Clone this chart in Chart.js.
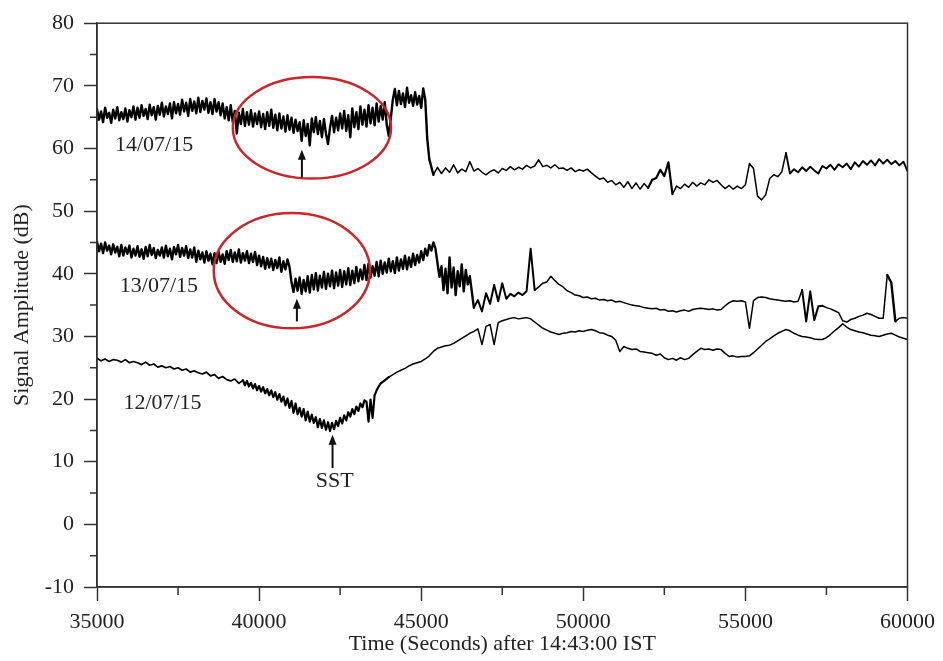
<!DOCTYPE html>
<html><head><meta charset="utf-8">
<script src="https://cdn.jsdelivr.net/npm/chart.js@4.4.1/dist/chart.umd.min.js"></script>
<style>html,body{margin:0;padding:0;background:#fff;}#wrap{width:943px;height:661px;position:relative;}</style>
</head><body><div id="wrap"><canvas id="c"></canvas></div>
<script>
// sampling time grids (s after 14:43:00 IST)
const range = (a, b, step) => { const r = []; for (let t = a; t <= b + 1e-6; t += step) r.push(t); return r; };

// ---- 14/07/15 ----
// dense samples (every 62.5 s) 35000 - 45250
const t14a = range(35000, 45250, 62.5);
const s14a = [
66.3,64.6,65.9,64.2,66.5,64.9,65.7,64.1,66.2,64.8,66.6,64.5,65.8,64.7,66.4,64.3,66.1,65.0,66.7,64.6,
66.5,64.9,66.9,65.2,66.3,64.7,67.0,65.3,66.6,64.6,66.8,65.4,67.3,65.1,66.7,65.5,67.2,64.8,67.4,65.6,
67.1,65.4,67.8,65.9,67.3,65.2,67.9,66.0,67.5,65.6,68.1,65.8,67.6,66.2,68.0,65.7,67.4,65.5,67.9,65.9,
67.4,65.3,67.2,64.8,66.6,64.5,66.9,64.2,66.0,62.4,65.7,63.9,66.3,63.6,65.8,63.8,66.1,63.5,65.6,63.9,
65.9,63.4,65.5,63.1,65.8,63.6,66.2,63.3,65.4,62.9,65.6,63.2,65.1,62.7,65.3,63.0,64.9,62.5,64.6,62.8,
64.2,61.2,64.5,62.0,63.9,60.5,64.8,62.6,65.0,62.3,64.4,61.8,64.7,62.4,60.7,63.3,65.2,62.6,64.9,62.9,
65.6,63.2,66.0,62.8,65.3,61.8,66.4,63.4,65.8,63.1,66.7,63.8,66.2,63.5,66.9,64.0,66.5,63.7,67.2,64.3,
66.8,64.6,67.4,63.8,62.0,64.8,67.8,69.5,66.9,69.2,67.1,68.8,66.6,69.7,67.3,68.5,66.8,69.0,67.0,68.4,
66.5,69.6,67.8,61.5,58.3];
// samples every 125 s, 45375 - 60000
const t14b = range(45375, 60000, 125);
const s14b = [
55.8,57.0,56.0,56.9,56.2,57.4,56.1,
56.7,56.3,57.9,56.4,56.8,56.2,55.8,56.3,56.6,56.1,
56.8,56.5,57.1,56.6,57.0,56.7,57.3,56.9,57.2,58.2,
57.1,57.3,56.9,57.4,56.8,56.9,56.5,56.9,56.3,56.6,
56.4,56.7,56.1,55.6,55.1,55.3,54.6,54.9,54.2,54.6,
53.8,54.7,53.6,54.5,53.5,54.4,53.7,55.0,55.3,56.6,
55.6,57.8,52.7,54.0,53.6,54.3,53.8,54.6,54.0,54.5,
54.2,55.0,54.6,54.9,54.2,53.6,54.1,53.5,54.0,53.6,
54.2,57.6,56.8,52.4,51.8,52.6,55.2,55.8,55.5,56.3,
59.3,56.0,56.7,56.2,57.0,56.4,57.1,56.5,56.0,57.2,
56.8,57.4,56.6,57.5,57.0,57.6,56.7,57.8,57.1,58.0,
57.4,58.1,57.3,58.3,57.6,58.2,57.5,58.0,57.3,57.9,
56.4];

// ---- 13/07/15 ----
const t13a = range(35000, 46500, 62.5);
const s13a = [
45.1,43.6,44.8,43.3,45.0,43.7,44.5,43.1,44.7,43.4,44.3,42.8,44.6,42.9,44.2,43.2,44.5,42.6,44.0,42.9,
44.4,42.7,43.9,42.4,44.3,42.8,44.6,43.0,44.1,42.5,43.8,42.9,44.2,42.6,44.5,42.8,44.0,42.3,44.3,43.1,
44.6,42.7,44.1,42.9,44.4,42.5,43.9,42.6,44.2,41.9,43.7,42.3,43.4,41.8,43.6,42.1,43.2,41.5,43.3,41.7,
43.5,41.9,43.1,41.6,43.6,42.2,43.8,41.9,43.4,42.0,43.9,41.8,43.3,42.1,43.6,41.7,43.2,41.9,43.5,41.4,
42.9,41.2,42.7,40.8,42.5,41.0,42.4,40.6,42.2,40.9,42.6,40.3,42.0,40.7,42.3,41.1,38.6,37.1,39.2,37.3,
39.4,36.8,39.0,37.2,39.6,37.0,39.8,37.5,40.1,37.3,39.7,37.8,40.3,37.6,40.0,38.0,40.5,37.7,40.2,38.1,
40.6,37.9,40.4,38.3,40.9,38.2,40.5,38.5,41.1,38.8,40.7,39.1,41.4,39.0,41.6,39.4,41.2,39.7,41.9,39.6,
42.1,40.0,41.8,40.2,42.4,40.4,42.0,40.1,42.6,40.5,42.3,40.8,42.9,40.7,42.6,41.1,43.2,41.4,43.0,41.8,
43.6,42.2,44.0,42.9,44.6,43.7,45.0,44.1,41.8,39.5,41.2,37.4,40.8,36.9,42.6,37.8,41.0,36.6,40.4,38.0,
41.5,37.2,40.6,38.3,39.6];
const t13b = range(46625, 60000, 125);
const s13b = [
34.6,35.8,34.0,36.9,35.2,38.2,35.6,
38.5,36.0,36.8,36.4,37.0,36.6,37.2,44.0,37.4,37.9,
38.5,38.7,39.6,38.9,38.3,37.9,37.3,37.0,36.6,36.5,
36.2,36.3,36.0,36.1,35.8,35.9,35.7,35.8,35.5,35.6,
35.4,35.2,35.0,34.9,34.8,34.6,34.5,34.4,34.5,34.2,
34.3,34.0,34.1,33.9,34.1,34.2,34.0,34.3,34.4,34.5,
34.4,34.3,34.4,34.2,34.3,34.9,35.4,35.7,35.6,35.7,
35.5,31.3,35.7,36.2,36.3,36.2,36.0,35.9,35.8,35.7,
35.6,35.7,35.5,35.6,37.4,32.4,37.2,32.6,34.8,34.9,
34.6,34.4,34.1,33.8,32.5,32.3,32.7,32.9,33.2,33.4,
33.7,33.5,33.2,32.9,32.9,39.8,38.6,32.4,32.9,33.0,
32.9];

// ---- 12/07/15 ----
const t12a = range(35000, 39375, 125);
const s12a = [
26.5,26.1,26.4,26.0,26.3,26.2,25.9,26.3,25.8,26.0,
25.8,25.5,25.9,25.4,25.6,25.1,25.3,25.0,25.2,24.8,
25.0,24.6,24.8,24.3,24.5,24.2,24.0,24.3,23.7,23.9,
23.3,23.6,23.1,22.9,23.2,22.5];
const t12b = range(39500, 43750, 62.5);
const s12b = [
23.0,22.2,22.9,22.0,22.6,21.7,22.4,21.4,22.1,21.2,21.9,20.9,21.6,20.6,21.4,20.3,21.1,19.9,20.8,19.6,
20.4,19.0,20.1,18.6,19.7,17.8,19.3,17.6,18.6,17.2,18.4,16.6,18.0,16.4,17.5,16.2,17.1,15.5,16.8,15.4,
16.6,15.1,16.3,14.9,16.2,15.2,16.5,15.7,17.0,16.1,17.4,16.6,17.9,17.2,18.4,17.6,18.8,18.1,19.3,18.7,
19.8,19.6,16.4,19.9,17.0,20.6,21.4,22.0,22.5];
const t12c = range(43875, 60000, 125);
const s12c = [
23.0,23.5,23.9,24.3,24.6,24.9,25.3,25.6,25.8,
26.0,26.4,26.9,27.6,28.1,28.3,28.5,28.6,28.9,29.3,
29.7,30.1,30.5,30.8,31.2,28.7,31.6,31.9,28.7,32.2,
32.5,32.7,32.9,33.0,32.8,32.9,33.0,32.8,32.3,31.8,
31.3,31.0,30.7,30.5,30.3,30.5,30.6,30.8,30.7,30.9,
30.8,31.0,31.1,30.9,30.6,30.5,30.2,30.0,29.4,27.6,
28.4,28.1,27.9,28.0,27.6,27.5,27.4,27.3,27.0,27.2,
26.6,26.3,26.5,26.2,26.6,26.3,26.5,27.1,27.6,28.1,
27.9,28.0,27.8,28.0,27.9,27.3,26.8,26.9,26.7,26.8,
26.8,26.9,27.4,28.0,28.6,29.2,29.6,30.1,30.5,30.8,
31.1,30.9,30.5,30.2,30.0,29.9,29.8,29.6,29.5,29.5,
29.8,30.3,30.9,31.4,32.0,31.5,31.1,30.9,30.7,30.6,
30.4,30.2,30.1,30.0,30.2,30.4,30.5,30.2,29.9,29.7,
29.5];

// axis ticks
const xMajorTicks = [35000,40000,45000,50000,55000,60000];
const xMinorTicks = [37500,42500,47500,52500,57500];
const yMajorTicks = [-10,0,10,20,30,40,50,60,70,80];
const yMinorTicks = [-5,5,15,25,35,45,55,65,75];

// line-weight styling: [start time, end time, stroke width]
const style14 = [[35000,45300,2.4],[52000,52750,2.2],[56250,60000,1.9]];
const style13 = [[35000,46600,2.4],[46600,48500,2.0],[56700,57300,2.0],[59300,59600,2.4]];
const style12 = [[35000,39500,1.7],[39500,43900,2.2]];

// annotations (data coordinates)
const dateLabels = ['14/07/15','13/07/15','12/07/15'];
const dateLabelX = [36760, 36910, 37020];
const dateLabelY = [60.5, 38.0, 19.3];
const sstLabel = 'SST';
const sstX = 42330, sstY = 6.9;
const arrowX = [41320, 41166, 42265];
const arrowTail = [55.4, 32.4, 9.0];
const arrowTip = [59.8, 36.0, 14.3];
const ellCX = [41630, 41010];
const ellCY = [63.3, 40.5];
const ellRX = [2440, 2410];
const ellRY = [8.1, 9.2];

const FONT = 'Liberation Serif';
Chart.defaults.font.family = FONT;
Chart.defaults.color = '#222';

const pts = (...segs) => {
  const out = [];
  for (let s = 0; s < segs.length; s += 2) segs[s].forEach((t, i) => out.push({x: t, y: segs[s + 1][i]}));
  return out;
};

const decor = {
  id: 'decor',
  afterDraw(chart) {
    const {ctx, chartArea: a, scales: {x, y}} = chart;
    ctx.save();
    ctx.strokeStyle = '#333';
    ctx.lineWidth = 1.5;
    ctx.strokeRect(a.left, a.top, a.right - a.left, a.bottom - a.top);
    ctx.beginPath();
    yMinorTicks.forEach(v => { const p = y.getPixelForValue(v); ctx.moveTo(a.left - 7, p); ctx.lineTo(a.left, p); });
    xMinorTicks.forEach(v => { const p = x.getPixelForValue(v); ctx.moveTo(p, a.bottom); ctx.lineTo(p, a.bottom + 8); });
    ctx.stroke();

    ctx.strokeStyle = '#c8262c';
    ctx.lineWidth = 2.5;
    ellCX.forEach((cx, i) => {
      const px = x.getPixelForValue(cx), py = y.getPixelForValue(ellCY[i]);
      const rx = x.getPixelForValue(cx + ellRX[i]) - px;
      const ry = py - y.getPixelForValue(ellCY[i] + ellRY[i]);
      ctx.beginPath(); ctx.ellipse(px, py, rx, ry, 0, 0, Math.PI * 2); ctx.stroke();
    });

    ctx.strokeStyle = '#111'; ctx.fillStyle = '#111'; ctx.lineWidth = 2;
    arrowX.forEach((ax, i) => {
      const px = x.getPixelForValue(ax);
      const p0 = y.getPixelForValue(arrowTail[i]), p1 = y.getPixelForValue(arrowTip[i]);
      ctx.beginPath(); ctx.moveTo(px, p0); ctx.lineTo(px, p1 + 6); ctx.stroke();
      ctx.beginPath(); ctx.moveTo(px, p1); ctx.lineTo(px - 4, p1 + 10); ctx.lineTo(px + 4, p1 + 10); ctx.closePath(); ctx.fill();
    });

    ctx.fillStyle = '#222';
    ctx.font = '22px "' + FONT + '"';
    ctx.textAlign = 'center'; ctx.textBaseline = 'middle';
    dateLabels.forEach((t, i) => ctx.fillText(t, x.getPixelForValue(dateLabelX[i]), y.getPixelForValue(dateLabelY[i])));
    ctx.fillText(sstLabel, x.getPixelForValue(sstX), y.getPixelForValue(sstY));
    ctx.restore();
  }
};

const widthFor = (style) => (c) => {
  const t = c.p0.parsed.x;
  for (const [a, b, w] of style) if (t >= a && t < b) return w;
  return 1.5;
};

const ds = (label, data, style) => ({
  label, data, borderColor: '#000', borderWidth: 1.5, pointRadius: 0,
  tension: 0, borderJoinStyle: 'round', borderCapStyle: 'round', fill: false,
  segment: { borderWidth: widthFor(style) }
});

new Chart(document.getElementById('c'), {
  type: 'line',
  data: { datasets: [
    ds('14/07/15', pts(t14a, s14a, t14b, s14b), style14),
    ds('13/07/15', pts(t13a, s13a, t13b, s13b), style13),
    ds('12/07/15', pts(t12a, s12a, t12b, s12b, t12c, s12c), style12)
  ] },
  options: {
    responsive: true, maintainAspectRatio: false, animation: false,
    layout: { padding: { top: 20, right: 35, left: 0, bottom: 0 } },
    plugins: { legend: { display: false }, tooltip: { enabled: false } },
    scales: {
      x: {
        type: 'linear', min: 35000, max: 60000,
        afterBuildTicks: s => { s.ticks = xMajorTicks.map(v => ({value: v})); },
        afterFit: s => { s.height = 74; },
        ticks: { font: { size: 22, family: FONT }, color: '#222', padding: 8, maxRotation: 0, autoSkip: false, callback: v => String(v) },
        grid: { drawOnChartArea: false, drawTicks: true, tickLength: 14, tickColor: '#333', tickWidth: 1.5 },
        border: { display: true, color: '#333', width: 1.5 },
        title: { display: true, text: 'Time (Seconds) after 14:43:00 IST', font: { size: 22, family: FONT }, color: '#222', padding: { top: 0, bottom: 4 } }
      },
      y: {
        type: 'linear', min: -10, max: 80,
        afterBuildTicks: s => { s.ticks = yMajorTicks.map(v => ({value: v})); },
        afterFit: s => { s.width = 97; },
        ticks: { font: { size: 22, family: FONT }, color: '#222', padding: 10, autoSkip: false, callback: v => String(v) },
        grid: { drawOnChartArea: false, drawTicks: true, tickLength: 13, tickColor: '#333', tickWidth: 1.5 },
        border: { display: true, color: '#333', width: 1.5 },
        title: { display: true, text: 'Signal Amplitude (dB)', font: { size: 22, family: FONT }, color: '#222', padding: { top: 9, bottom: 0 } }
      }
    }
  },
  plugins: [decor]
});
</script></body></html>
